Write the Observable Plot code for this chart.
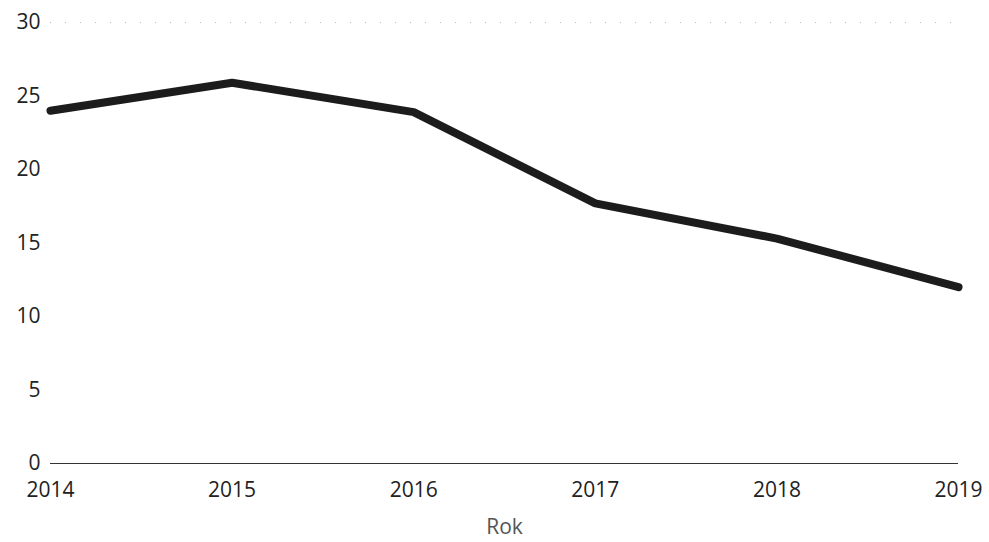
<!DOCTYPE html>
<html>
<head>
<meta charset="utf-8">
<script src="https://cdn.jsdelivr.net/npm/d3@7"></script>
<script src="https://cdn.jsdelivr.net/npm/@observablehq/plot@0.6"></script>
<style>
  html, body { margin: 0; padding: 0; background: #fff; }
  svg { display: block; }
</style>
</head>
<body>
<div id="chart"></div>
<script>
const years = [2014, 2015, 2016, 2017, 2018, 2019];
const values = [24.0, 25.9, 23.9, 17.7, 15.3, 12.0];
const yTicks = [0, 5, 10, 15, 20, 25, 30];
const xLabel = "Rok";

const data = years.map((year, i) => ({year, value: values[i]}));

const chart = Plot.plot({
  width: 989,
  height: 542,
  marginLeft: 50,
  marginRight: 31,
  marginTop: 22,
  marginBottom: 79,
  style: {fontFamily: "'Open Sans', sans-serif", fontSize: "21px", color: "#222", background: "#fff"},
  x: {domain: [2014, 2019], label: null},
  y: {domain: [0, 30], label: null},
  marks: [
    Plot.ruleY([30], {stroke: "#bbb", strokeWidth: 1, strokeDasharray: "1 14"}),
    Plot.ruleY([0], {stroke: "#333", strokeWidth: 1.2}),
    Plot.axisY({ticks: yTicks, tickSize: 0, tickPadding: 10, label: null, fontSize: 21}),
    Plot.axisX({ticks: years, tickFormat: d3.format("d"), tickSize: 0, tickPadding: 19, label: null, fontSize: 21}),
    Plot.line(data, {x: "year", y: "value", stroke: "#1c1c1c", strokeWidth: 8, strokeLinejoin: "miter"}),
    Plot.text([xLabel], {frameAnchor: "bottom", dy: 70, text: d => d, fill: "#555", fontSize: 21})
  ]
});
document.getElementById("chart").append(chart);
</script>
</body>
</html>
